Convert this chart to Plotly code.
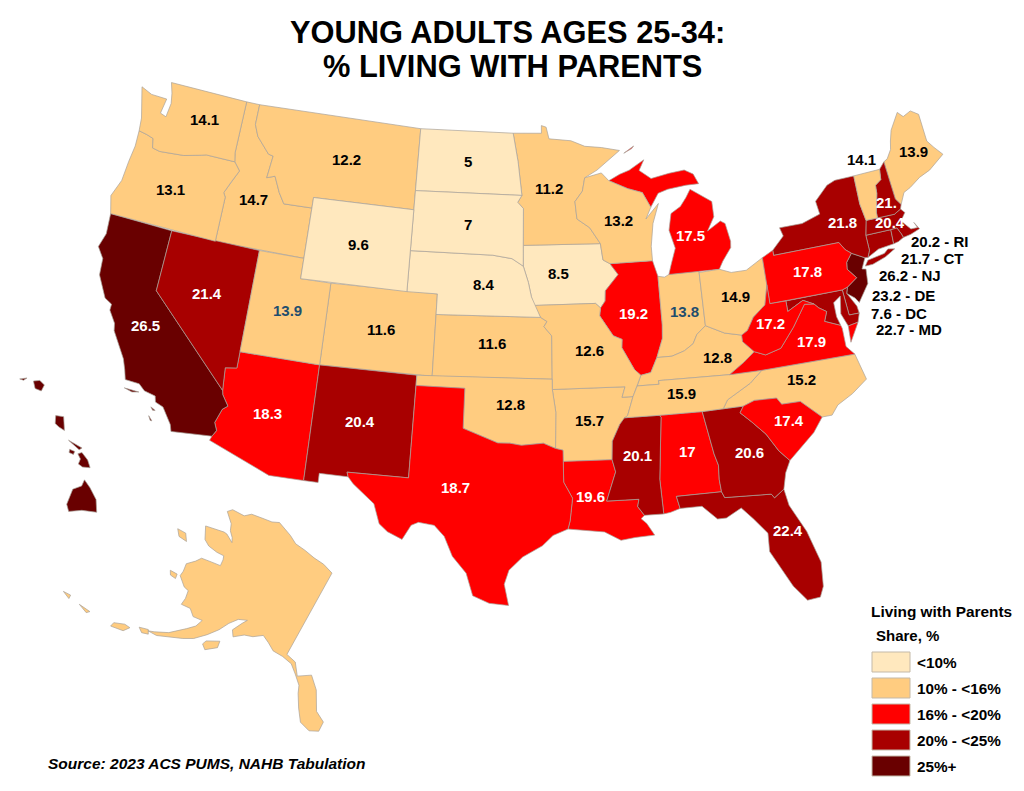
import numpy as np
import plotly.graph_objects as go

FONT = "Liberation Sans"

# values, % of 25-34 year olds living with parents
state_codes = ["AK", "AL", "AR", "AZ", "CA", "CO", "CT", "DC", "DE", "FL", "GA", "HI", "IA", "ID", "IL", "IN", "KS",
               "KY", "LA", "MA", "MD", "ME", "MI", "MN", "MO", "MS", "MT", "NC", "ND", "NE", "NH", "NJ", "NM", "NV",
               "NY", "OH", "OK", "OR", "PA", "RI", "SC", "SD", "TN", "TX", "UT", "VA", "VT", "WA", "WI", "WV", "WY"]
share_values = [13.0, 17, 15.7, 18.3, 26.5, 11.6, 21.7, 7.6, 23.2, 22.4, 20.6, 26.0, 8.5, 14.7, 19.2, 13.8, 11.6,
                12.8, 19.6, 20.4, 22.7, 13.9, 17.5, 11.2, 12.6, 20.1, 12.2, 15.2, 5, 8.4, 21.0, 26.2, 20.4, 21.4,
                21.8, 14.9, 12.8, 13.1, 17.8, 20.2, 17.4, 7, 15.9, 18.7, 13.9, 17.9, 14.1, 14.1, 13.2, 17.2, 9.6]

# states labelled on the map, and what the label says
map_labels = ["WA", "OR", "ID", "MT", "WY", "ND", "SD", "NE", "MN", "IA", "WI", "MI", "IL", "IN", "OH", "KY", "TN",
              "NC", "SC", "GA", "AL", "MS", "LA", "FL", "AR", "MO", "OK", "KS", "CO", "UT", "NV", "CA", "AZ", "NM",
              "TX", "VA", "WV", "PA", "NY", "VT", "ME", "NH", "MA"]
callout_labels = ["RI", "CT", "NJ", "DE", "DC", "MD"]

# label centres on the page, px
map_label_px = [(204, 119), (170, 190), (253, 200), (346, 160), (358, 244), (468, 161), (468, 225), (484, 284),
                (549, 188), (558, 273), (618, 220), (690, 236), (633, 313), (684, 311), (735, 296), (717, 357),
                (681, 393), (801, 380), (789, 420), (749, 452), (687, 451), (637, 455), (590, 496), (788, 530),
                (589, 420), (589, 350), (510, 404), (492, 344), (381, 329), (287, 310), (207, 293), (145, 326),
                (267, 413), (360, 421), (455, 487), (811, 341), (770, 323), (807, 271), (842, 222), (861, 160),
                (913, 151), (886, 202), (890, 222)]
callout_px = [(940, 241), (932, 258), (910, 275), (903, 295), (899, 313), (909, 330)]

legend_labels = ["<10%", "10% - <16%", "16% - <20%", "20% - <25%", "25%+"]
class_edges = [10, 16, 20, 25]
class_colors = ["#FFE8BE", "#FFCC80", "#FF0000", "#A80000", "#690000"]

# state outlines, lon/lat, one list per part
outlines = {
    "WA": [[(-122.75, 49), (-117.03, 49), (-117.04, 46.42), (-116.92, 45.99), (-118.98, 46), (-119.3, 45.93),
            (-120.5, 45.7), (-121.2, 45.65), (-122.2, 45.58), (-122.75, 45.65), (-122.9, 46.1), (-123.4, 46.2),
            (-124, 46.27), (-124.1, 46.9), (-124.4, 47.6), (-124.73, 48.38), (-123.9, 48.16), (-123.1, 48.15),
            (-122.75, 48.15), (-122.9, 47.4), (-122.45, 47.3), (-122.35, 48), (-122.5, 48.5)]],
    "OR": [[(-124, 46.27), (-123.4, 46.2), (-122.9, 46.1), (-122.75, 45.65), (-122.2, 45.58), (-121.2, 45.65),
            (-120.5, 45.7), (-119.3, 45.93), (-118.98, 46), (-116.92, 45.99), (-116.46, 45.6), (-116.85, 45),
            (-117.2, 44.4), (-117.03, 44.2), (-117.03, 42), (-124.21, 42), (-124.4, 42.5), (-124.55, 42.84),
            (-124.15, 43.7), (-124.07, 44.7), (-123.95, 45.5)]],
    "CA": [[(-124.21, 42), (-120, 42), (-120, 39), (-114.63, 35), (-114.57, 34.8), (-114.14, 34.3), (-114.43, 34.1),
            (-114.72, 33.4), (-114.52, 33.03), (-114.72, 32.72), (-117.12, 32.53), (-117.25, 32.85), (-117.9, 33.6),
            (-118.4, 33.75), (-118.5, 34.03), (-119.2, 34.15), (-119.6, 34.42), (-120.47, 34.45), (-120.65, 34.9),
            (-120.9, 35.4), (-121.9, 36.6), (-122, 36.95), (-122.5, 37.5), (-122.5, 37.8), (-123, 38),
            (-123.75, 39), (-123.85, 39.8), (-124.35, 40.3), (-124.1, 41)],
           [(-120.4, 34.05), (-120.0, 34.05), (-119.5, 34.03), (-119.9, 33.95)],
           [(-118.6, 33.47), (-118.3, 33.35), (-118.45, 33.33)],
           [(-118.6, 33.03), (-118.35, 32.82), (-118.45, 32.82)]],
    "NV": [[(-120, 42), (-114.04, 42), (-114.04, 36.2), (-114.74, 36.1), (-114.63, 35), (-120, 39)]],
    "ID": [[(-117.03, 49), (-116.05, 49), (-116.05, 48), (-115.7, 47.45), (-114.7, 46.7), (-114.35, 46.65),
            (-114.5, 45.55), (-113.95, 45.7), (-113.45, 44.95), (-113, 44.45), (-111.05, 44.48), (-111.05, 42),
            (-117.03, 42), (-117.03, 44.2), (-117.2, 44.4), (-116.85, 45), (-116.46, 45.6), (-116.92, 45.99),
            (-117.04, 46.42)]],
    "MT": [[(-116.05, 49), (-104.05, 49), (-104.05, 45), (-111.05, 45), (-111.05, 44.48), (-113, 44.45),
            (-113.45, 44.95), (-113.95, 45.7), (-114.5, 45.55), (-114.35, 46.65), (-114.7, 46.7), (-115.7, 47.45),
            (-116.05, 48)]],
    "WY": [[(-111.05, 45), (-104.05, 45), (-104.05, 41), (-111.05, 41)]],
    "UT": [[(-114.04, 42), (-111.05, 42), (-111.05, 41), (-109.05, 41), (-109.05, 37), (-114.04, 37)]],
    "CO": [[(-109.05, 41), (-102.05, 41), (-102.05, 37), (-109.05, 37)]],
    "AZ": [[(-114.04, 37), (-109.05, 37), (-109.05, 31.33), (-111.07, 31.33), (-114.81, 32.5), (-114.72, 32.72),
            (-114.52, 33.03), (-114.72, 33.4), (-114.43, 34.1), (-114.14, 34.3), (-114.57, 34.8), (-114.63, 35),
            (-114.74, 36.1), (-114.04, 36.2)]],
    "NM": [[(-109.05, 37), (-103, 37), (-103.04, 32), (-106.62, 32), (-106.53, 31.78), (-108.21, 31.78),
            (-108.21, 31.33), (-109.05, 31.33)]],
    "ND": [[(-104.05, 49), (-97.23, 49), (-96.85, 47.6), (-96.56, 45.94), (-104.05, 45.94)]],
    "SD": [[(-104.05, 45.94), (-96.56, 45.94), (-96.85, 45.6), (-96.45, 45.3), (-96.45, 43.5), (-96.44, 42.49),
            (-97.2, 42.85), (-98.5, 43), (-104.05, 43)]],
    "NE": [[(-104.05, 43), (-98.5, 43), (-97.2, 42.85), (-96.44, 42.49), (-96.1, 41.7), (-95.9, 41), (-95.31, 40),
            (-102.05, 40), (-102.05, 41), (-104.05, 41)]],
    "KS": [[(-102.05, 40), (-95.31, 40), (-94.9, 39.8), (-95.1, 39.55), (-94.61, 39.1), (-94.62, 37), (-102.05, 37)]],
    "OK": [[(-103, 37), (-94.62, 37), (-94.62, 36.5), (-94.43, 35.4), (-94.48, 33.64), (-95.2, 33.9), (-96.5, 33.8),
            (-97.2, 33.9), (-97.9, 33.9), (-99.2, 34.3), (-100, 34.56), (-100, 36.5), (-103, 36.5)]],
    "TX": [[(-106.62, 32), (-103.04, 32), (-103, 36.5), (-100, 36.5), (-100, 34.56), (-99.2, 34.3), (-97.9, 33.9),
            (-97.2, 33.9), (-96.5, 33.8), (-95.2, 33.9), (-94.48, 33.64), (-94.04, 33.55), (-94.04, 31.99),
            (-93.55, 31.2), (-93.72, 30.1), (-93.85, 29.7), (-94.7, 29.4), (-95.3, 28.9), (-96.4, 28.35),
            (-97.15, 27.7), (-97.4, 27), (-97.15, 25.96), (-98.2, 26.05), (-99.1, 26.4), (-99.5, 27.5),
            (-100.3, 28.3), (-100.8, 29.25), (-101.4, 29.77), (-102.3, 29.87), (-102.7, 29.7), (-103.15, 28.98),
            (-104, 29.3), (-104.5, 29.65), (-104.9, 30.6), (-106.2, 31.47), (-106.53, 31.78)]],
    "MN": [[(-97.23, 49), (-95.15, 49), (-95.15, 49.38), (-94.8, 49.3), (-94.6, 48.72), (-93, 48.6), (-92, 48.3),
            (-90.8, 48.2), (-89.5, 48), (-91.2, 47.1), (-92.1, 46.75), (-92.3, 46.1), (-92.85, 45.6), (-92.75, 44.75),
            (-91.9, 44.3), (-91.22, 43.5), (-96.45, 43.5), (-96.45, 45.3), (-96.85, 45.6), (-96.56, 45.94),
            (-96.85, 47.6)]],
    "IA": [[(-96.45, 43.5), (-91.22, 43.5), (-91.1, 42.7), (-90.65, 42.5), (-90.15, 41.95), (-91.05, 41.2),
            (-91.1, 40.7), (-91.42, 40.38), (-91.73, 40.61), (-95.77, 40.58), (-95.9, 41), (-96.1, 41.7),
            (-96.44, 42.49)]],
    "MO": [[(-95.77, 40.58), (-91.73, 40.61), (-91.42, 40.38), (-91.5, 40), (-90.7, 39), (-90.15, 38.8), (-90.2, 38.4),
            (-89.5, 37.3), (-89.13, 37), (-89.4, 36.5), (-89.7, 36), (-90.37, 36), (-90.15, 36.5), (-94.62, 36.5),
            (-94.62, 37), (-94.61, 39.1), (-95.1, 39.55), (-94.9, 39.8), (-95.31, 40)]],
    "AR": [[(-94.62, 36.5), (-90.15, 36.5), (-90.37, 36), (-89.7, 36), (-90.1, 35.1), (-90.6, 34.7), (-91.1, 33.9),
            (-91.17, 33), (-94.04, 33), (-94.04, 33.55), (-94.48, 33.64), (-94.43, 35.4)]],
    "LA": [[(-94.04, 33), (-91.17, 33), (-91, 32.4), (-91.6, 31), (-89.75, 31), (-89.85, 30.65), (-89.5, 30.2),
            (-89.7, 30.05), (-89.4, 29.8), (-89, 29.2), (-90.1, 29.15), (-90.9, 29.05), (-91.8, 29.5), (-92.3, 29.55),
            (-93.85, 29.7), (-93.72, 30.1), (-93.55, 31.2), (-94.04, 31.99)]],
    "MS": [[(-91.17, 33), (-91.1, 33.9), (-90.6, 34.7), (-90.3, 35), (-88.2, 35), (-88.1, 34.9), (-88.47, 31.9),
            (-88.4, 30.2), (-89.5, 30.2), (-89.85, 30.65), (-89.75, 31), (-91.6, 31), (-91, 32.4)]],
    "AL": [[(-88.2, 35), (-85.6, 34.98), (-85.18, 32.87), (-85, 32.3), (-85.05, 31.6), (-85, 31), (-87.6, 31),
            (-87.45, 30.4), (-88, 30.25), (-88.4, 30.2), (-88.47, 31.9), (-88.1, 34.9)]],
    "GA": [[(-85.6, 34.98), (-83.1, 35), (-83.35, 34.7), (-82.75, 34.2), (-82, 33.5), (-81.4, 32.6), (-80.85, 32.05),
            (-81.2, 31.5), (-81.45, 30.72), (-82.05, 30.37), (-82.2, 30.57), (-84.86, 30.7), (-85, 31),
            (-85.05, 31.6), (-85, 32.3), (-85.18, 32.87)]],
    "FL": [[(-87.6, 31), (-85, 31), (-84.86, 30.7), (-82.2, 30.57), (-82.05, 30.37), (-81.45, 30.72), (-81.3, 29.9),
            (-80.55, 28.5), (-80.05, 26.9), (-80.15, 25.7), (-80.4, 25.2), (-81.1, 25.15), (-81.75, 25.95),
            (-82.2, 26.8), (-82.75, 27.8), (-82.7, 28.7), (-83.4, 29.5), (-84, 30.1), (-84.9, 29.7), (-85.4, 29.7),
            (-86.2, 30.4), (-87.45, 30.4)]],
    "SC": [[(-83.1, 35), (-82.4, 35.2), (-81.05, 35.15), (-80.8, 34.82), (-79.67, 34.8), (-78.55, 33.87), (-79.2, 33.2),
            (-79.9, 32.7), (-80.85, 32.05), (-81.4, 32.6), (-82, 33.5), (-82.75, 34.2), (-83.35, 34.7)]],
    "NC": [[(-81.68, 36.59), (-75.87, 36.55), (-75.5, 35.25), (-76.5, 34.7), (-77.5, 34.3), (-77.95, 33.87),
            (-78.55, 33.87), (-79.67, 34.8), (-80.8, 34.82), (-81.05, 35.15), (-82.4, 35.2), (-83.1, 35),
            (-84.32, 35), (-84, 35.4), (-83.2, 35.75), (-82.5, 36.05)]],
    "TN": [[(-90.3, 35), (-90.1, 35.1), (-89.7, 36), (-89.4, 36.5), (-88.05, 36.5), (-88.07, 36.68), (-83.68, 36.6),
            (-81.68, 36.59), (-82.5, 36.05), (-83.2, 35.75), (-84, 35.4), (-84.32, 35), (-85.6, 34.98), (-88.2, 35)]],
    "KY": [[(-89.4, 36.5), (-89.13, 37), (-88.5, 37.1), (-88.05, 37.8), (-87.1, 37.8), (-86.3, 38), (-85.7, 38.3),
            (-85.4, 38.73), (-84.8, 39.1), (-84.3, 38.9), (-83.65, 38.63), (-82.6, 38.42), (-82.6, 38.1),
            (-81.97, 37.54), (-82.7, 37.1), (-83.68, 36.6), (-88.07, 36.68), (-88.05, 36.5)]],
    "IL": [[(-91.5, 40), (-91.42, 40.38), (-91.1, 40.7), (-91.05, 41.2), (-90.15, 41.95), (-90.65, 42.5), (-87.8, 42.5),
            (-87.53, 41.72), (-87.53, 39.35), (-87.6, 38.7), (-88.05, 37.8), (-88.5, 37.1), (-89.13, 37), (-89.5, 37.3),
            (-90.2, 38.4), (-90.15, 38.8), (-90.7, 39)]],
    "IN": [[(-87.53, 41.72), (-87.1, 41.65), (-86.8, 41.76), (-84.8, 41.76), (-84.8, 39.1), (-85.4, 38.73),
            (-85.7, 38.3), (-86.3, 38), (-87.1, 37.8), (-88.05, 37.8), (-87.6, 38.7), (-87.53, 39.35)]],
    "OH": [[(-84.8, 41.7), (-83.45, 41.73), (-82.7, 41.5), (-81.7, 41.5), (-80.52, 41.98), (-80.52, 40.64),
            (-80.85, 39.7), (-81.7, 39.2), (-82.2, 38.6), (-82.6, 38.42), (-83.65, 38.63), (-84.3, 38.9), (-84.8, 39.1)]],
    "MI": [[(-86.8, 41.76), (-84.8, 41.76), (-83.45, 41.73), (-83.15, 42.1), (-82.5, 42.7), (-82.45, 43), (-82.65, 43.9),
            (-82.95, 44.05), (-83.9, 43.65), (-83.35, 44.3), (-83.35, 45.05), (-84.75, 45.78), (-85.1, 45.4),
            (-85.55, 45), (-86.25, 44.7), (-86.5, 43.9), (-86.2, 43), (-86.6, 42.2)],
           [(-90.4, 46.55), (-89.1, 46.1), (-88.1, 45.85), (-87.6, 45.1), (-87, 45.75), (-86.3, 45.9), (-85, 46),
            (-84.1, 46), (-84.4, 46.5), (-85, 46.75), (-86.1, 46.67), (-87.4, 46.5), (-88.2, 46.95), (-87.8, 47.45),
            (-88.9, 47), (-89.6, 46.83)],
           [(-89.2, 47.85), (-88.45, 48.17), (-88.6, 48.05)]],
    "WI": [[(-92.1, 46.75), (-90.9, 46.95), (-90.4, 46.55), (-89.1, 46.1), (-88.1, 45.85), (-87.6, 45.1), (-88, 44.55),
            (-87.05, 45.25), (-87.55, 44.3), (-87.8, 43.2), (-87.8, 42.5), (-90.65, 42.5), (-91.1, 42.7),
            (-91.22, 43.5), (-91.9, 44.3), (-92.75, 44.75), (-92.85, 45.6), (-92.3, 46.1)]],
    "PA": [[(-80.52, 41.98), (-79.76, 42.25), (-79.76, 42), (-75.35, 42), (-75.05, 41.6), (-74.7, 41.36),
            (-75.13, 40.98), (-75.2, 40.65), (-74.72, 40.15), (-75.42, 39.8), (-75.79, 39.72), (-80.52, 39.72)]],
    "NY": [[(-79.76, 42), (-79.76, 42.25), (-78.9, 42.85), (-79.05, 43.27), (-77.5, 43.27), (-76.2, 43.55), (-76.3, 44.2),
            (-75.3, 44.85), (-74.7, 45), (-73.35, 45), (-73.4, 43.6), (-73.25, 42.75), (-73.5, 42.05), (-73.5, 41.3),
            (-73.7, 40.98), (-73.9, 41), (-74.7, 41.36), (-75.05, 41.6), (-75.35, 42)],
           [(-74, 40.6), (-73.75, 40.85), (-72.6, 40.98), (-72.3, 41.15), (-71.87, 41.07), (-72.6, 40.8), (-73.5, 40.6)]],
    "VT": [[(-73.35, 45), (-71.5, 45), (-71.6, 44.5), (-72.05, 44.3), (-72.1, 43.9), (-72.45, 43), (-72.46, 42.73),
            (-73.25, 42.75), (-73.4, 43.6)]],
    "NH": [[(-71.5, 45), (-71.08, 45.3), (-70.98, 43.4), (-70.7, 43.07), (-70.82, 42.87), (-71.3, 42.7), (-72.46, 42.73),
            (-72.45, 43), (-72.1, 43.9), (-72.05, 44.3), (-71.6, 44.5)]],
    "ME": [[(-71.08, 45.3), (-70.8, 45.4), (-70.4, 45.8), (-70.25, 46.2), (-70, 46.7), (-69.23, 47.46), (-68.9, 47.18),
            (-68.3, 47.35), (-67.8, 47.07), (-67.8, 45.7), (-67.45, 45.3), (-67, 44.85), (-68.2, 44.3), (-69, 44.1),
            (-69.8, 43.75), (-70.3, 43.6), (-70.7, 43.07), (-70.98, 43.4)]],
    "MA": [[(-73.5, 42.05), (-73.25, 42.75), (-72.46, 42.73), (-71.3, 42.7), (-70.82, 42.87), (-70.6, 42.65), (-71, 42.3),
            (-70.65, 41.95), (-70.5, 41.8), (-70.05, 41.78), (-70.2, 42.07), (-69.95, 41.7), (-70.6, 41.55),
            (-71.13, 41.5), (-71.2, 41.7), (-71.38, 42.02), (-71.8, 42.02)]],
    "RI": [[(-71.8, 42.02), (-71.38, 42.02), (-71.2, 41.7), (-71.13, 41.5), (-71.5, 41.37), (-71.85, 41.32)]],
    "CT": [[(-73.5, 42.05), (-71.8, 42.02), (-71.85, 41.32), (-72.9, 41.25), (-73.7, 40.98), (-73.5, 41.3)]],
    "NJ": [[(-74.7, 41.36), (-73.9, 41), (-74.25, 40.5), (-74, 40.45), (-74.1, 39.75), (-74.9, 38.95), (-75.1, 39.2),
            (-75.55, 39.5), (-75.42, 39.8), (-74.72, 40.15), (-75.2, 40.65), (-75.13, 40.98)]],
    "DE": [[(-75.79, 39.72), (-75.42, 39.8), (-75.55, 39.5), (-75.1, 38.8), (-75.05, 38.45), (-75.7, 38.46)]],
    "MD": [[(-79.48, 39.72), (-75.79, 39.72), (-75.7, 38.46), (-75.05, 38.45), (-75.25, 38.03), (-75.9, 37.95),
            (-76.2, 38.6), (-76, 39.45), (-76.5, 39.2), (-76.5, 38.5), (-76.35, 38.05), (-77.3, 38.4), (-77.05, 38.85),
            (-77.5, 39.1), (-77.75, 39.33), (-78.4, 39.6), (-79.48, 39.2)]],
    "DC": [[(-77.12, 38.93), (-77.04, 39), (-76.91, 38.89), (-77.04, 38.79)]],
    "VA": [[(-83.68, 36.6), (-81.68, 36.59), (-75.87, 36.55), (-76.3, 37), (-76.3, 37.9), (-76.35, 38.05), (-77.3, 38.4),
            (-77.05, 38.85), (-77.5, 39.1), (-77.75, 39.33), (-78.35, 39.4), (-78.9, 38.8), (-79.3, 38.4), (-80.3, 37.5),
            (-81.3, 37.3), (-81.97, 37.54), (-82.7, 37.1)],
           [(-75.9, 37.95), (-75.25, 38.03), (-75.95, 37.15)]],
    "WV": [[(-80.52, 40.64), (-80.52, 39.72), (-79.48, 39.72), (-79.48, 39.2), (-78.4, 39.6), (-77.75, 39.33),
            (-78.35, 39.4), (-78.9, 38.8), (-79.3, 38.4), (-80.3, 37.5), (-81.3, 37.3), (-81.97, 37.54), (-82.6, 38.1),
            (-82.6, 38.42), (-82.2, 38.6), (-81.7, 39.2), (-80.85, 39.7)]],
    "AK": [[(-141, 69.65), (-143.5, 70.1), (-146, 70.2), (-148.5, 70.4), (-151, 70.45), (-153, 70.9), (-156.6, 71.35),
            (-158, 70.85), (-160, 70.5), (-162.5, 70), (-163.5, 69.3), (-166.2, 68.9), (-166.8, 68.35), (-164.5, 67.7),
            (-163.7, 67.1), (-162.5, 66.7), (-161.9, 66.3), (-163.8, 66.6), (-164.5, 66.55), (-166, 66.2),
            (-168.1, 65.65), (-166.4, 64.65), (-165, 64.45), (-163, 64.55), (-161.5, 64.75), (-161.1, 64.4),
            (-160.8, 63.8), (-162.5, 63.5), (-164.5, 63.1), (-165, 62.5), (-166, 61.7), (-165.5, 61), (-165.4, 60.5),
            (-163.5, 60), (-162.5, 60), (-162, 59.3), (-161.9, 58.65), (-160.2, 58.9), (-158.9, 58.5), (-157.2, 58.75),
            (-157.5, 58), (-158.5, 57.3), (-160.5, 56), (-162.5, 55.2), (-163.4, 54.9), (-161.8, 55.1), (-160, 55.7),
            (-158, 56.4), (-156.5, 57), (-155, 58), (-153.8, 59), (-153, 60), (-152, 60.8), (-150.5, 61.2),
            (-151, 60.7), (-151.8, 59.7), (-151, 59.2), (-149.5, 59.9), (-148, 60.2), (-146.5, 60.8), (-145, 60.45),
            (-143.5, 60), (-141.5, 59.95), (-139.5, 59.7), (-138, 59), (-136.5, 58.2), (-136, 57.5), (-134.8, 56.3),
            (-133.5, 55.2), (-131.6, 54.75), (-130.1, 55), (-130, 55.9), (-131.8, 56.6), (-133.4, 58.4), (-135.3, 59.5),
            (-137.5, 58.9), (-139, 60), (-141, 60.3)],
           [(-154.5, 57.5), (-152.5, 58.2), (-152.2, 57.6), (-153.8, 56.8), (-154.7, 57.1)],
           [(-171.7, 63.4), (-170, 63.7), (-168.8, 63.2), (-170.5, 63)],
           [(-167.4, 60.2), (-166, 60.4), (-165.7, 60), (-166.8, 59.9)],
           [(-164.9, 54.6), (-163.5, 55), (-163, 54.7), (-164, 54.4)],
           [(-168.5, 52.9), (-166.5, 53.4), (-166, 54), (-167, 53.9), (-168.5, 53.3)],
           [(-174.5, 52.1), (-172.5, 52.4), (-172.8, 52.1)],
           [(-177.7, 51.7), (-176.5, 52), (-176.3, 51.7)]],
    "HI": [[(-159.78, 22.06), (-159.6, 22.23), (-159.35, 22.2), (-159.3, 21.95), (-159.55, 21.88)],
           [(-160.25, 21.8), (-160.05, 22), (-160.1, 21.85)],
           [(-158.27, 21.55), (-158, 21.7), (-157.65, 21.3), (-157.9, 21.28), (-158.1, 21.3)],
           [(-157.3, 21.1), (-156.7, 21.17), (-156.75, 21.05), (-157.25, 21.08)],
           [(-157.05, 20.85), (-156.85, 20.9), (-156.82, 20.78), (-157, 20.74)],
           [(-156.7, 20.9), (-156.6, 21.03), (-156.25, 20.93), (-156, 20.75), (-156.25, 20.6), (-156.45, 20.6),
            (-156.5, 20.8)],
           [(-155.9, 20.25), (-155.55, 20.13), (-155.1, 19.9), (-154.8, 19.52), (-155.3, 19.25), (-155.68, 18.92),
            (-155.9, 19.1), (-156.05, 19.7), (-155.85, 20)]],
}

WIDTH, HEIGHT = 1024, 791
SCALE = 1171  # px per projected unit
X_LEFT, Y_TOP = -0.4525, -0.9881
# inset placement in px: anchor x,y in projected units, anchor on page, then the 2x2 that maps offsets to px
insets = {"AK": ((-0.3554, -0.6936), (332, 573), (605, 65, -48, -652)),
          "HI": ((-0.9457, -1.3081), (83, 500), (1550, 0, 0, -1550))}


def albers(lon, lat):
    p1, p2 = np.radians(29.5), np.radians(45.5)
    n = (np.sin(p1) + np.sin(p2)) / 2
    c = np.cos(p1) ** 2 + 2 * n * np.sin(p1)
    rho = np.sqrt(c - 2 * n * np.sin(np.radians(lat))) / n
    theta = n * np.radians(np.array(lon) + 96)
    return rho * np.sin(theta), -rho * np.cos(theta)


def class_color(v):
    return class_colors[int(np.searchsorted(class_edges, v, side="right"))]


def page_text(text, px, py, size=15, color="#000000", xanchor="center"):
    fig.add_annotation(x=px / WIDTH, y=1 - py / HEIGHT, xref="paper", yref="paper", text=text, showarrow=False,
                       xanchor=xanchor, yanchor="middle", font=dict(family=FONT, size=size, color=color))


fig = go.Figure()

for code, value in zip(state_codes, share_values):
    xs, ys = [], []
    for ring in outlines[code]:
        lon, lat = zip(*ring)
        x, y = albers(np.array(lon), np.array(lat))
        if code in insets:
            (ax, ay), (px0, py0), (a, b, c, d) = insets[code]
            px = px0 + a * (x - ax) + b * (y - ay)
            py = py0 + c * (x - ax) + d * (y - ay)
            x, y = X_LEFT + px / SCALE, Y_TOP - py / SCALE
        xs += list(x) + [x[0], None]
        ys += list(y) + [y[0], None]
    fig.add_trace(go.Scatter(x=xs, y=ys, mode="lines", fill="toself", fillcolor=class_color(value),
                             line=dict(color="#a9a29a", width=0.7), hoverinfo="skip", showlegend=False))

values_by_state = dict(zip(state_codes, share_values))
for code, (px, py) in zip(map_labels, map_label_px):
    v = values_by_state[code]
    text = "21." if code == "NH" else f"{v:g}"
    color = "#000000" if v < 16 else "#ffffff"
    if code in ("UT", "IN"):
        color = "#1f4e6e"
    page_text(f"<b>{text}</b>", px, py, color=color)

for code, (px, py) in zip(callout_labels, callout_px):
    page_text(f"<b>{values_by_state[code]:g} - {code}</b>", px, py)

# legend built by hand, same as the source map
for i, (label, color) in enumerate(zip(legend_labels, class_colors)):
    top = 652 + i * 26
    fig.add_shape(type="rect", xref="paper", yref="paper", x0=872 / WIDTH, x1=910 / WIDTH,
                  y0=1 - (top + 20) / HEIGHT, y1=1 - top / HEIGHT, fillcolor=color,
                  line=dict(color="#c4b9a8", width=1))
    page_text(f"<b>{label.replace('<', '&lt;')}</b>", 915, top + 10, size=15.3, xanchor="left")

page_text("<b>Living with Parents</b>", 869, 611, size=15.4, xanchor="left")
page_text("<b>Share, %</b>", 874, 635, size=15, xanchor="left")
page_text("<b><i>Source: 2023 ACS PUMS, NAHB Tabulation</i></b>", 46, 763, size=15.5, xanchor="left")
page_text("<b>YOUNG ADULTS AGES 25-34:</b>", 507, 33, size=30.8)
page_text("<b>% LIVING WITH PARENTS</b>", 512, 67, size=30.8)

fig.update_layout(width=WIDTH, height=HEIGHT, margin=dict(l=0, r=0, t=0, b=0), paper_bgcolor="white",
                  plot_bgcolor="white",
                  xaxis=dict(visible=False, range=[X_LEFT, X_LEFT + WIDTH / SCALE], fixedrange=True),
                  yaxis=dict(visible=False, range=[Y_TOP - HEIGHT / SCALE, Y_TOP], fixedrange=True))
fig.write_html("out.html", post_script="document.body.style.margin = '0';", config={"displayModeBar": False})
